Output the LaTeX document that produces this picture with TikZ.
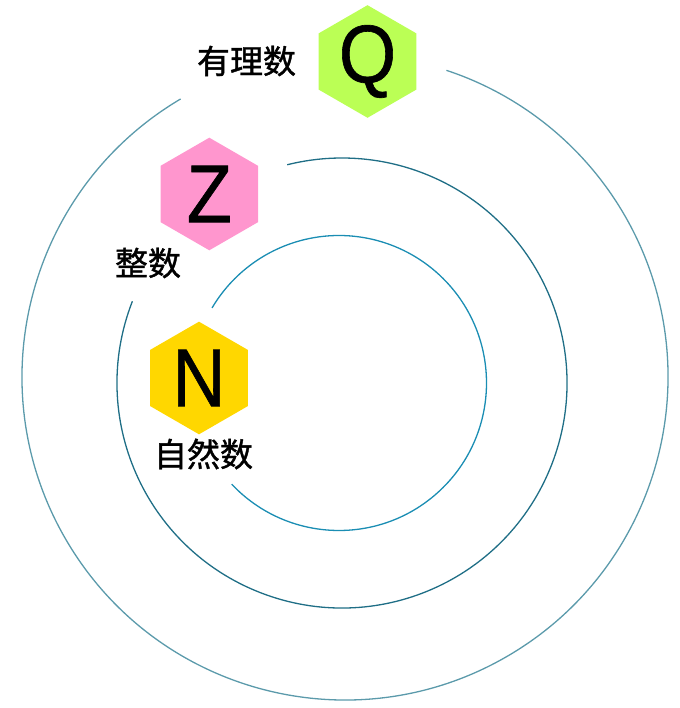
\documentclass[tikz,border=0pt]{standalone}
\usepackage{fontspec}
\setmainfont{Liberation Sans}
\newfontfamily\cjk{Noto Sans CJK SC}[FakeBold=1.2]
\newfontfamily\letterfont{Liberation Sans}[FakeBold=0.8]
\usetikzlibrary{shapes.geometric}
\definecolor{ringQ}{HTML}{5B9AAB}
\definecolor{ringZ}{HTML}{1F6E86}
\definecolor{ringN}{HTML}{1A8DB3}
\definecolor{hexQ}{HTML}{BBFF55}
\definecolor{hexZ}{HTML}{FF96CE}
\definecolor{hexN}{HTML}{FFD700}
\tikzset{
  hexagon/.style={regular polygon, regular polygon sides=6, shape border rotate=30, minimum size=112.6pt, inner sep=0pt, draw=none},
  letter/.style={font=\letterfont\fontsize{82}{82}\selectfont, inner sep=0pt, xscale=0.9},
  setname/.style={font=\cjk\fontsize{33}{33}\selectfont, inner sep=0pt}
}
\begin{document}
\begin{tikzpicture}[x=1pt,y=1pt]
\useasboundingbox (0,0) rectangle (679,708);
\coordinate (cq) at (345,331);
\coordinate (cz) at (342,325);
\coordinate (cn) at (339,325);
\draw[ringQ, line width=1.3pt] (cq) ++(120.6:323) arc[start angle=120.6, end angle=431.7, radius=323];
\draw[ringZ, line width=1.3pt] (cz) ++(158.7:225) arc[start angle=158.7, end angle=464.1, radius=225];
\draw[ringN, line width=1.3pt] (cn) ++(223.3:147.5) arc[start angle=223.3, end angle=509.4, radius=147.5];
\node[hexagon, fill=hexQ] (hq) at (367.5,646.5) {};
\node[hexagon, fill=hexZ] (hz) at (209.3,514) {};
\node[hexagon, fill=hexN] (hn) at (199,330) {};
\node[letter] (q) at (hq) {Q};
\node[letter] (z) at (hz) {Z};
\node[letter] (n) at (hn) {N};
\node[setname] (lq) at (246.5,647) {有理数};
\node[setname] (lz) at (148,445) {整数};
\node[setname] (ln) at (203.5,254) {自然数};
\end{tikzpicture}
\end{document}
